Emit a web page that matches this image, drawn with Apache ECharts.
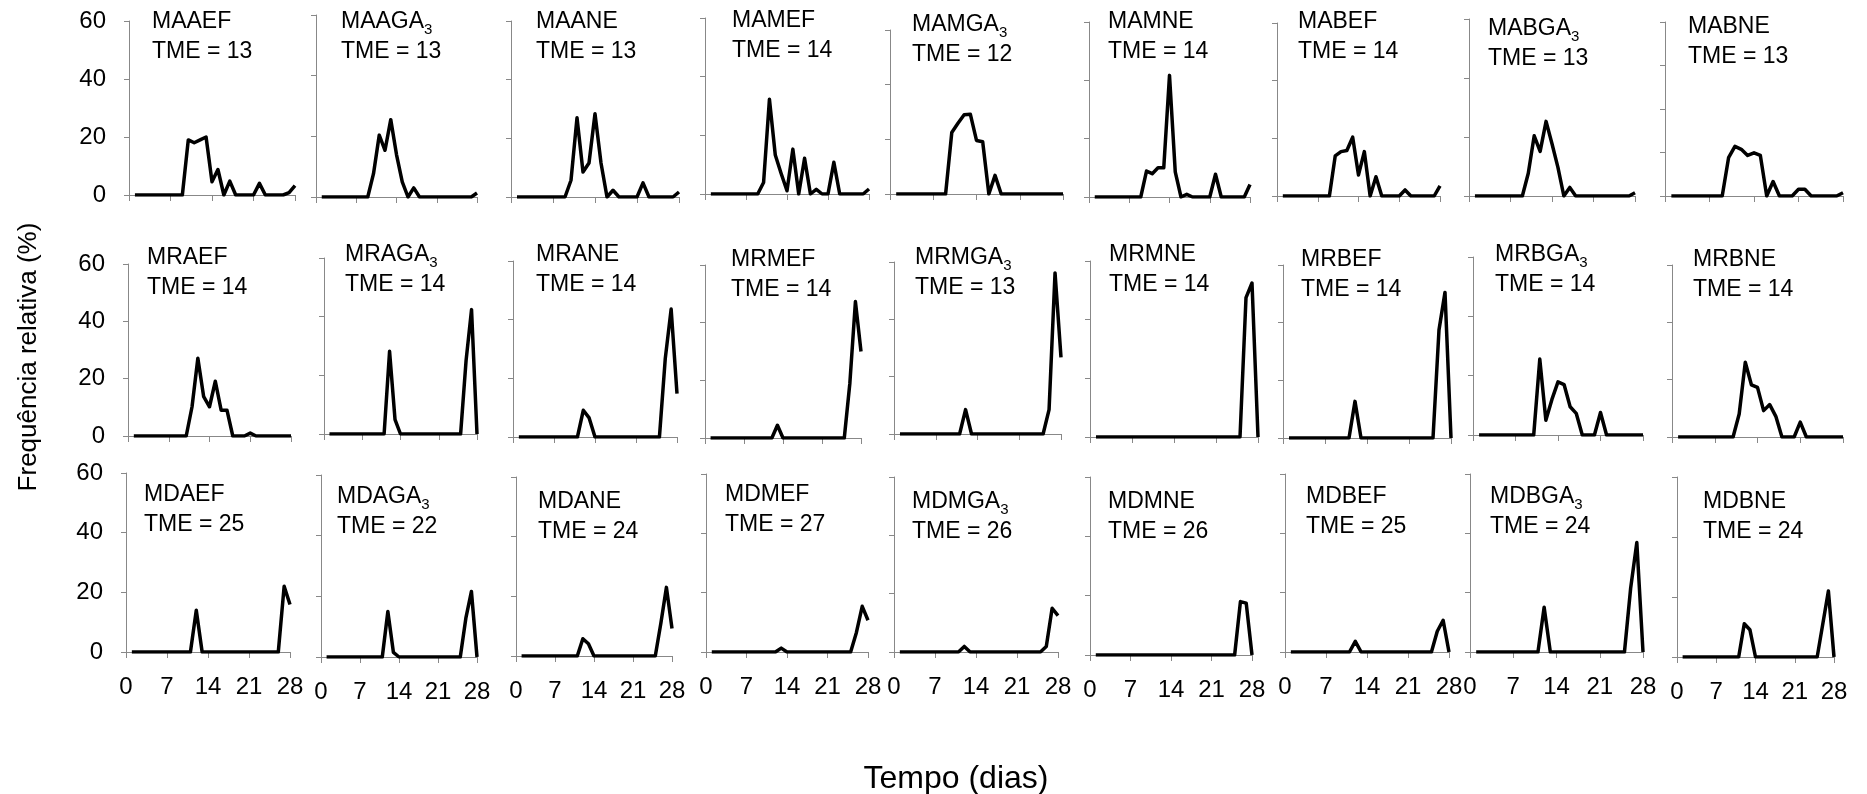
<!DOCTYPE html>
<html>
<head>
<meta charset="utf-8">
<script src="https://cdn.jsdelivr.net/npm/echarts@6/dist/echarts.min.js"></script>
<style>
  html, body { margin: 0; padding: 0; background: #fff; }
  #charts { width: 1867px; height: 794px; }
</style>
</head>
<body>
<div id="charts"></div>
<script>
// dias de observação
const days = [1, 2, 3, 4, 5, 6, 7, 8, 9, 10, 11, 12, 13, 14, 15, 16, 17, 18, 19, 20, 21, 22, 23, 24, 25, 26, 27, 28];
const xTicks = [0, 7, 14, 21, 28];

// nomes dos tratamentos e TME, linha a linha
const panelNames = [
  'MAAEF', 'MAAGA3', 'MAANE', 'MAMEF', 'MAMGA3', 'MAMNE', 'MABEF', 'MABGA3', 'MABNE',
  'MRAEF', 'MRAGA3', 'MRANE', 'MRMEF', 'MRMGA3', 'MRMNE', 'MRBEF', 'MRBGA3', 'MRBNE',
  'MDAEF', 'MDAGA3', 'MDANE', 'MDMEF', 'MDMGA3', 'MDMNE', 'MDBEF', 'MDBGA3', 'MDBNE'
];
const tmeValues = [
  13, 13, 13, 14, 12, 14, 14, 13, 13,
  14, 14, 14, 14, 13, 14, 14, 14, 14,
  25, 22, 24, 27, 26, 26, 25, 24, 24
];
// passo do eixo y (MABNE tem 4 divisões)
const yIntervals = [
  20, 20, 20, 20, 20, 20, 20, 20, 15,
  20, 20, 20, 20, 20, 20, 20, 20, 20,
  20, 20, 20, 20, 20, 20, 20, 20, 20
];

// frequência relativa (%) por dia
const MAAEF  = [0, 0, 0, 0, 0, 0, 0, 0, 0, 19, 18, 19, 20, 4.6, 8.8, 0, 4.8, 0, 0, 0, 0, 4, 0, 0, 0, 0, 0.8, 3.2];
const MAAGA3 = [0, 0, 0, 0, 0, 0, 0, 0, 0, 7.7, 20.4, 15.4, 25.5, 14, 5, 0, 3, 0, 0, 0, 0, 0, 0, 0, 0, 0, 0, 1.3];
const MAANE  = [0, 0, 0, 0, 0, 0, 0, 0, 0, 5.7, 27, 8.5, 11.6, 28.4, 11.6, 0, 2.3, 0, 0, 0, 0, 4.8, 0, 0, 0, 0, 0, 1.7];
const MAMEF  = [0, 0, 0, 0, 0, 0, 0, 0, 0, 3.9, 32.3, 13.3, 7, 1.1, 15.3, 0, 12.2, 0, 1.6, 0, 0, 10.8, 0, 0, 0, 0, 0, 1.7];
const MAMGA3 = [0, 0, 0, 0, 0, 0, 0, 0, 0, 22.5, 25.9, 29, 29.2, 19.6, 19.1, 0, 6.8, 0, 0, 0, 0, 0, 0, 0, 0, 0, 0, 0];
const MAMNE  = [0, 0, 0, 0, 0, 0, 0, 0, 0, 8.9, 8, 10, 10, 41.7, 8.6, 0, 0.9, 0, 0, 0, 0, 7.8, 0, 0, 0, 0, 0, 4.3];
const MABEF  = [0, 0, 0, 0, 0, 0, 0, 0, 0, 13.9, 15.4, 15.8, 20.4, 7.3, 15.4, 0, 6.7, 0, 0, 0, 0, 2.1, 0, 0, 0, 0, 0, 3.5];
const MABGA3 = [0, 0, 0, 0, 0, 0, 0, 0, 0, 7.7, 20.4, 15.1, 25.3, 17.7, 9.7, 0, 2.9, 0, 0, 0, 0, 0, 0, 0, 0, 0, 0, 1.1];
const MABNE  = [0, 0, 0, 0, 0, 0, 0, 0, 0, 13.2, 17.1, 16.1, 14, 14.9, 14, 0, 5, 0, 0, 0, 2.3, 2.3, 0, 0, 0, 0, 0, 1.1];

const MRAEF  = [0, 0, 0, 0, 0, 0, 0, 0, 0, 0, 10.2, 27.1, 13.7, 10.2, 19.1, 9, 9, 0, 0, 0, 1, 0, 0, 0, 0, 0, 0, 0];
const MRAGA3 = [0, 0, 0, 0, 0, 0, 0, 0, 0, 0, 0, 28.2, 4.9, 0, 0, 0, 0, 0, 0, 0, 0, 0, 0, 0, 0, 25, 42.4, 0];
const MRANE  = [0, 0, 0, 0, 0, 0, 0, 0, 0, 0, 0, 9.1, 6.5, 0, 0, 0, 0, 0, 0, 0, 0, 0, 0, 0, 0, 26.8, 43.6, 14.8];
const MRMEF  = [0, 0, 0, 0, 0, 0, 0, 0, 0, 0, 0, 0, 4.4, 0, 0, 0, 0, 0, 0, 0, 0, 0, 0, 0, 0, 19, 47.3, 30];
const MRMGA3 = [0, 0, 0, 0, 0, 0, 0, 0, 0, 0, 0, 8.5, 0, 0, 0, 0, 0, 0, 0, 0, 0, 0, 0, 0, 0, 8.5, 56.2, 26.7];
const MRMNE  = [0, 0, 0, 0, 0, 0, 0, 0, 0, 0, 0, 0, 0, 0, 0, 0, 0, 0, 0, 0, 0, 0, 0, 0, 0, 47.5, 52.5, 0];
const MRBEF  = [0, 0, 0, 0, 0, 0, 0, 0, 0, 0, 0, 12.7, 0, 0, 0, 0, 0, 0, 0, 0, 0, 0, 0, 0, 0, 37.5, 50.5, 0];
const MRBGA3 = [0, 0, 0, 0, 0, 0, 0, 0, 0, 0, 25.6, 5, 12, 17.9, 17, 9.5, 7.3, 0, 0, 0, 7.6, 0, 0, 0, 0, 0, 0, 0];
const MRBNE  = [0, 0, 0, 0, 0, 0, 0, 0, 0, 0, 8, 26.1, 18.2, 17.3, 9.2, 11.3, 7.2, 0, 0, 0, 5.2, 0, 0, 0, 0, 0, 0, 0];

const MDAEF  = [0, 0, 0, 0, 0, 0, 0, 0, 0, 0, 0, 14, 0, 0, 0, 0, 0, 0, 0, 0, 0, 0, 0, 0, 0, 0, 22, 15.9];
const MDAGA3 = [0, 0, 0, 0, 0, 0, 0, 0, 0, 0, 0, 15, 1.5, 0, 0, 0, 0, 0, 0, 0, 0, 0, 0, 0, 0, 12.8, 21.6, 0];
const MDANE  = [0, 0, 0, 0, 0, 0, 0, 0, 0, 0, 0, 5.8, 4.1, 0, 0, 0, 0, 0, 0, 0, 0, 0, 0, 0, 0, 11, 23, 9.2];
const MDMEF  = [0, 0, 0, 0, 0, 0, 0, 0, 0, 0, 0, 0, 1.3, 0, 0, 0, 0, 0, 0, 0, 0, 0, 0, 0, 0, 6.6, 15.4, 10.7];
const MDMGA3 = [0, 0, 0, 0, 0, 0, 0, 0, 0, 0, 0, 1.9, 0, 0, 0, 0, 0, 0, 0, 0, 0, 0, 0, 0, 0, 1.9, 15, 12.5];
const MDMNE  = [0, 0, 0, 0, 0, 0, 0, 0, 0, 0, 0, 0, 0, 0, 0, 0, 0, 0, 0, 0, 0, 0, 0, 0, 0, 18, 17.5, 0];
const MDBEF  = [0, 0, 0, 0, 0, 0, 0, 0, 0, 0, 0, 3.6, 0, 0, 0, 0, 0, 0, 0, 0, 0, 0, 0, 0, 0, 7, 10.7, 0];
const MDBGA3 = [0, 0, 0, 0, 0, 0, 0, 0, 0, 0, 0, 15.1, 0, 0, 0, 0, 0, 0, 0, 0, 0, 0, 0, 0, 0, 21.5, 36.9, 0];
const MDBNE  = [0, 0, 0, 0, 0, 0, 0, 0, 0, 0, 0, 11.1, 9.1, 0, 0, 0, 0, 0, 0, 0, 0, 0, 0, 0, 0, 11, 22, 0];

const seriesValues = [
  MAAEF, MAAGA3, MAANE, MAMEF, MAMGA3, MAMNE, MABEF, MABGA3, MABNE,
  MRAEF, MRAGA3, MRANE, MRMEF, MRMGA3, MRMNE, MRBEF, MRBGA3, MRBNE,
  MDAEF, MDAGA3, MDANE, MDMEF, MDMGA3, MDMNE, MDBEF, MDBGA3, MDBNE
];

// posição de cada gráfico: [esquerda, topo, direita, base] em px
const panelBoxes = [
  [129, 21, 295, 195], [316, 15, 477, 197], [511, 21, 679, 197], [705, 18, 869, 194], [890, 30, 1063, 194],
  [1089, 22, 1250, 197], [1277, 23, 1440, 196], [1469, 19, 1635, 196], [1665, 22, 1843, 196],
  [128, 264, 291, 436], [324, 258, 477, 434], [513, 261, 677, 437], [705, 265, 861, 438], [894, 262, 1061, 434],
  [1090, 261, 1258, 437], [1283, 265, 1451, 438], [1473, 257, 1643, 435], [1672, 265, 1843, 437],
  [126, 473, 290, 652], [321, 475, 477, 657], [516, 477, 672, 656], [706, 474, 868, 652], [894, 477, 1058, 652],
  [1090, 477, 1252, 655], [1285, 474, 1449, 652], [1470, 474, 1643, 652], [1677, 477, 1834, 657]
];
// posição do rótulo (x esquerdo, centro da 1a linha)
const titleAnchors = [
  [152, 22], [341, 22], [536, 22], [732, 21], [912, 25], [1108, 22], [1298, 22], [1488, 29], [1688, 27],
  [147, 258], [345, 255], [536, 255], [731, 260], [915, 258], [1109, 255], [1301, 260], [1495, 255], [1693, 260],
  [144, 495], [337, 497], [538, 502], [725, 495], [912, 502], [1108, 502], [1306, 497], [1490, 497], [1703, 502]
];

const FONT = '"Liberation Sans", Arial, sans-serif';
const AXIS_COLOR = '#888888';
const LINE_H = 30;

let myChart = echarts.init(document.getElementById('charts'), null, { renderer: 'canvas' });

const grid = [], xAxis = [], yAxis = [], series = [], title = [];

panelNames.forEach((name, i) => {
  const [l, t, r, b] = panelBoxes[i];
  const row = Math.floor(i / 9);
  const col = i % 9;
  grid.push({ left: l, top: t, width: r - l, height: b - t, containLabel: false });
  xAxis.push({
    type: 'value', gridIndex: i, min: xTicks[0], max: xTicks[xTicks.length - 1], interval: 7,
    axisLine: { show: true, onZero: false, lineStyle: { color: AXIS_COLOR, width: 1 } },
    axisTick: { show: true, length: 6, lineStyle: { color: AXIS_COLOR } },
    axisLabel: { show: row === 2, margin: 23, fontSize: 24, fontFamily: FONT, color: '#000', showMinLabel: true, showMaxLabel: true },
    splitLine: { show: false }
  });
  yAxis.push({
    type: 'value', gridIndex: i, min: 0, max: 60, interval: yIntervals[i],
    axisLine: { show: true, onZero: false, lineStyle: { color: AXIS_COLOR, width: 1 } },
    axisTick: { show: true, length: 5, lineStyle: { color: AXIS_COLOR } },
    axisLabel: { show: col === 0, margin: 23, fontSize: 24, fontFamily: FONT, color: '#000' },
    splitLine: { show: false }
  });
  series.push({
    type: 'line', xAxisIndex: i, yAxisIndex: i,
    data: days.map((d, k) => [d, seriesValues[i][k]]),
    showSymbol: false, symbol: 'none', silent: true,
    lineStyle: { color: '#000', width: 3.5, join: 'round' }
  });
  // GA3 com subscrito
  let nameText = '{a|' + name + '}';
  if (name.endsWith('GA3')) {
    nameText = '{a|' + name.slice(0, -1) + '}{s|3}';
  }
  const [tx, ty] = titleAnchors[i];
  title.push({
    left: tx, top: ty - LINE_H / 2, padding: 0,
    text: nameText + '\n{a|TME = ' + tmeValues[i] + '}',
    textStyle: {
      fontSize: 23, fontFamily: FONT, color: '#000', fontWeight: 'normal',
      rich: {
        a: { fontSize: 23, lineHeight: LINE_H, fontFamily: FONT, color: '#000' },
        s: { fontSize: 15, lineHeight: 19, verticalAlign: 'bottom', fontFamily: FONT, color: '#000' }
      }
    }
  });
});

let option = {
  backgroundColor: '#fff',
  animation: false,
  title: title,
  grid: grid,
  xAxis: xAxis,
  yAxis: yAxis,
  series: series,
  graphic: [
    {
      type: 'text', x: 29, y: 357, rotation: Math.PI / 2,
      style: {
        text: 'Frequência relativa (%)', fontSize: 26, fontFamily: FONT, fill: '#000',
        textAlign: 'center', textVerticalAlign: 'middle', align: 'center', verticalAlign: 'middle'
      }
    },
    {
      type: 'text', x: 956, y: 779,
      style: {
        text: 'Tempo (dias)', fontSize: 32, fontFamily: FONT, fill: '#000',
        textAlign: 'center', textVerticalAlign: 'middle', align: 'center', verticalAlign: 'middle'
      }
    }
  ]
};

myChart.setOption(option);
</script>
</body>
</html>
